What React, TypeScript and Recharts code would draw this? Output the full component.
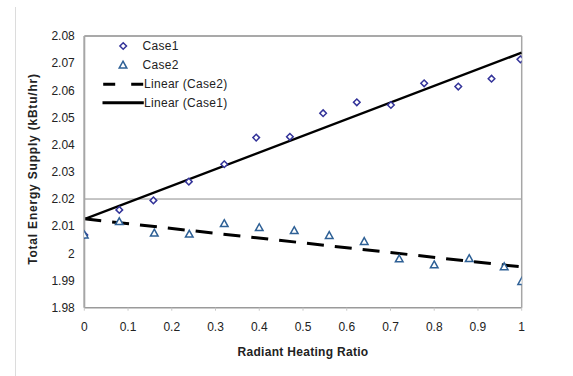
import React from 'react';
import {
  ComposedChart,
  XAxis,
  YAxis,
  Scatter,
  Line,
  ReferenceLine,
  Legend,
} from 'recharts';

// Case1 (diamonds)
const case1X = [0, 0.08, 0.158, 0.239, 0.32, 0.393, 0.47, 0.546, 0.623, 0.701, 0.777, 0.855, 0.931, 0.997];
const case1Y = [2.0068, 2.016, 2.0195, 2.0264, 2.0328, 2.0426, 2.0429, 2.0516, 2.0556, 2.0546, 2.0626, 2.0614, 2.0643, 2.0714];

// Case2 (triangles)
const case2X = [0, 0.08, 0.16, 0.24, 0.32, 0.4, 0.48, 0.56, 0.64, 0.72, 0.8, 0.88, 0.96, 1.0];
const case2Y = [2.0068, 2.0117, 2.0075, 2.0071, 2.011, 2.0095, 2.0084, 2.0066, 2.0044, 1.998, 1.9958, 1.9981, 1.9951, 1.9897];

// Linear trend lines (endpoints as read)
const trendX = [0, 1];
const trend1Y = [2.0126, 2.0739];
const trend2Y = [2.0127, 1.995];

const xTicks = [0, 0.1, 0.2, 0.3, 0.4, 0.5, 0.6, 0.7, 0.8, 0.9, 1];
const yTicks = [1.98, 1.99, 2, 2.01, 2.02, 2.03, 2.04, 2.05, 2.06, 2.07, 2.08];

const case1Data = case1X.map((x, i) => ({ x, y: case1Y[i] }));
const case2Data = case2X.map((x, i) => ({ x, y: case2Y[i] }));
const trend1Data = trendX.map((x, i) => ({ x, y: trend1Y[i] }));
const trend2Data = trendX.map((x, i) => ({ x, y: trend2Y[i] }));

const DIAMOND = '#333399';
const TRIANGLE = '#2f6196';
const FONT = 'Arial, "Liberation Sans", sans-serif';

const fmt = (v: number) => String(Number(v.toFixed(2)));

const Diamond = (props: any) => {
  const { cx, cy } = props;
  if (cx == null || cy == null) return null;
  const r = 3.3;
  return (
    <path
      d={`M${cx},${cy - r} L${cx + r},${cy} L${cx},${cy + r} L${cx - r},${cy} Z`}
      fill="#fff"
      stroke={DIAMOND}
      strokeWidth={1.5}
    />
  );
};

const Triangle = (props: any) => {
  const { cx, cy } = props;
  if (cx == null || cy == null) return null;
  const r = 3.8;
  return (
    <path
      d={`M${cx},${cy - r} L${cx + r},${cy + r * 0.8} L${cx - r},${cy + r * 0.8} Z`}
      fill="#fff"
      stroke={TRIANGLE}
      strokeWidth={1.5}
    />
  );
};

const LX = 86.5; // legend left (page px)
const lx = (v: number) => v - LX;
const txtStyle = { fontSize: 12, fontFamily: FONT, fill: '#222', letterSpacing: 0.3 } as const;

const LegendBox = () => (
  <svg width={152} height={82} style={{ display: 'block', background: '#fff' }}>
    <Diamond cx={lx(122.7)} cy={9} />
    <text x={lx(142)} y={9} dominantBaseline="central" {...txtStyle}>
      Case1
    </text>
    <Triangle cx={lx(122.5)} cy={28} />
    <text x={lx(142)} y={28} dominantBaseline="central" {...txtStyle}>
      Case2
    </text>
    <line x1={lx(102.7)} y1={47.3} x2={lx(143.3)} y2={47.3} stroke="#000" strokeWidth={3} strokeDasharray="12 16" />
    <text x={lx(143.5)} y={47.3} dominantBaseline="central" {...txtStyle}>
      Linear (Case2)
    </text>
    <line x1={lx(102)} y1={65.7} x2={lx(143.3)} y2={65.7} stroke="#000" strokeWidth={3} />
    <text x={lx(143.5)} y={65.7} dominantBaseline="central" {...txtStyle}>
      Linear (Case1)
    </text>
  </svg>
);

export default function App() {
  return (
    <div style={{ position: 'absolute', left: 0, top: 0, width: 573, height: 376, background: '#fff' }}>
      <div
        style={{
          position: 'absolute',
          left: 15,
          top: 7,
          width: 0,
          height: 369,
          borderLeft: '1px solid #dcdcdc',
        }}
      />
      <ComposedChart
        width={573}
        height={376}
        margin={{ top: 36, right: 51.3, bottom: 18.3, left: 0 }}
        style={{ fontFamily: FONT }}
      >
        <XAxis
          type="number"
          dataKey="x"
          domain={[0, 1]}
          ticks={xTicks}
          tickFormatter={fmt}
          allowDataOverflow
          height={50}
          axisLine={{ stroke: '#9a9a9a', strokeWidth: 1.5 }}
          tickLine={{ stroke: '#c8c8c8' }}
          tickSize={3}
          tickMargin={12}
          tick={{ fontSize: 12, fill: '#222', fontFamily: FONT }}
          label={{
            value: 'Radiant Heating Ratio',
            position: 'insideBottom',
            offset: 1.7,
            style: { fontSize: 12, fontWeight: 'bold', fill: '#222', fontFamily: FONT, letterSpacing: 0.3 },
          }}
        />
        <YAxis
          type="number"
          dataKey="y"
          domain={[1.98, 2.08]}
          ticks={yTicks}
          tickFormatter={fmt}
          allowDataOverflow
          width={84.3}
          axisLine={{ stroke: '#a6a6a6', strokeWidth: 2 }}
          tickLine={false}
          tickSize={0}
          tickMargin={9.5}
          tick={{ fontSize: 12, fill: '#222', fontFamily: FONT }}
          label={
            ((p: any) => (
              <text
                x={33}
                y={169}
                transform="rotate(-90 33 169)"
                textAnchor="middle"
                dominantBaseline="central"
                fontSize={12}
                fontWeight="bold"
                fill="#222"
                fontFamily={FONT}
                letterSpacing={0.8}
              >
                Total Energy Supply (kBtu/hr)
              </text>
            )) as any
          }
        />
        <ReferenceLine y={2.02} stroke="#8c8c8c" strokeWidth={1} />
        <ReferenceLine y={2.08} stroke="#8c8c8c" strokeWidth={1.5} />
        <ReferenceLine x={1} stroke="#a6a6a6" strokeWidth={1.5} />
        <Line
          data={trend2Data}
          dataKey="y"
          type="linear"
          stroke="#000"
          strokeWidth={3}
          strokeDasharray="17 11"
          dot={false}
          activeDot={false}
          isAnimationActive={false}
          legendType="none"
        />
        <Line
          data={trend1Data}
          dataKey="y"
          type="linear"
          stroke="#000"
          strokeWidth={2.5}
          dot={false}
          activeDot={false}
          isAnimationActive={false}
          legendType="none"
        />
        <Scatter data={case1Data} dataKey="y" shape={Diamond} isAnimationActive={false} />
        <Scatter data={case2Data} dataKey="y" shape={Triangle} isAnimationActive={false} />
        <Legend
          layout="vertical"
          align="center"
          verticalAlign="middle"
          content={() => <LegendBox />}
          wrapperStyle={{ position: 'absolute', left: LX, top: 36.8, width: 152, height: 82 }}
        />
      </ComposedChart>
    </div>
  );
}
